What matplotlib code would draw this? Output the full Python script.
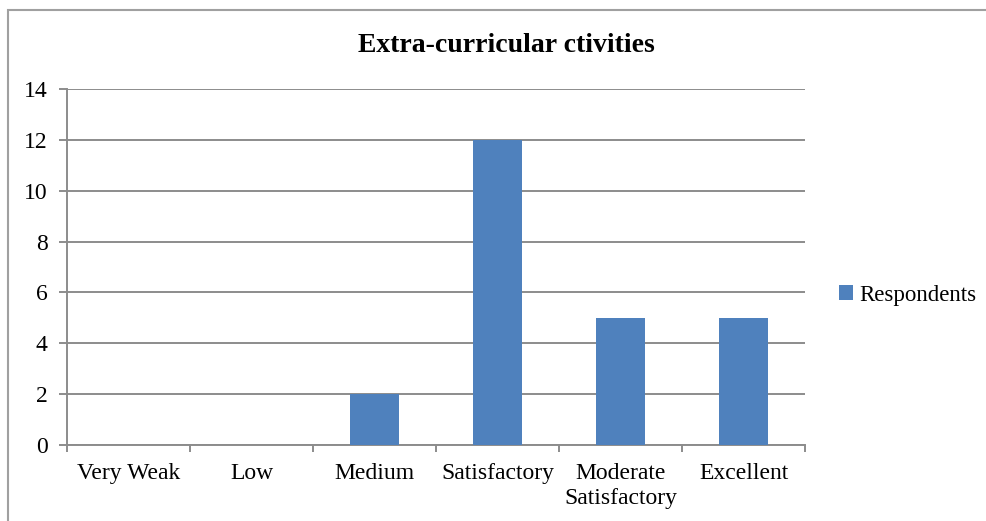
import matplotlib.pyplot as plt
from matplotlib.patches import Rectangle
import numpy as np

categories = ['Very Weak', 'Low', 'Medium', 'Satisfactory', 'Moderate\nSatisfactory', 'Excellent']
respondents = [0, 0, 2, 12, 5, 5]
yticks = [0, 2, 4, 6, 8, 10, 12, 14]

plt.rcParams['font.family'] = ['Liberation Serif', 'DejaVu Serif']

fig = plt.figure(figsize=(9.87, 5.21), dpi=100)
W, H = 987, 521
ax = fig.add_axes([67 / W, 1 - 445 / H, (805 - 67) / W, (445 - 89) / H])

x = np.arange(len(categories))
ax.bar(x, respondents, width=0.4, color='#4F81BD', label='Respondents', zorder=3)

ax.set_xlim(-0.5, len(categories) - 0.5)
ax.set_ylim(0, 14)
ax.set_yticks(yticks)
ax.grid(axis='y', color='#8c8c8c', linewidth=1.4, zorder=0)
ax.set_axisbelow(True)

ax.set_xticks(x)
ax.set_xticklabels(categories, fontsize=17, va='top', linespacing=1.25)
ax.set_xticks(np.arange(-0.5, len(categories) + 0.5, 1), minor=True)
ax.tick_params(axis='x', which='major', length=0, pad=13)
ax.tick_params(axis='x', which='minor', length=5, color='#8c8c8c', width=1.4)
ax.tick_params(axis='y', length=6, color='#8c8c8c', width=1.4, labelsize=17, pad=8)

for s in ['top', 'right']:
    ax.spines[s].set_visible(False)
for s in ['left', 'bottom']:
    ax.spines[s].set_color('#8c8c8c')
    ax.spines[s].set_linewidth(1.4)

fig.text(506 / W, 1 - 45 / H, 'Extra-curricular ctivities', ha='center', va='center',
         fontsize=20, fontweight='bold')

leg = ax.legend(loc='center left', bbox_to_anchor=(839 / W, 1 - 295 / H),
                bbox_transform=fig.transFigure, frameon=False, fontsize=16.5,
                borderpad=0, borderaxespad=0,
                handlelength=0.6, handleheight=0.6, handletextpad=0.3)

fig.patches.append(Rectangle((8 / W, -0.1), 1.2, 1.1 - 10 / H, transform=fig.transFigure,
                             fill=False, edgecolor='#a0a0a0', linewidth=1.5))

fig.savefig('out.png', dpi=100)
